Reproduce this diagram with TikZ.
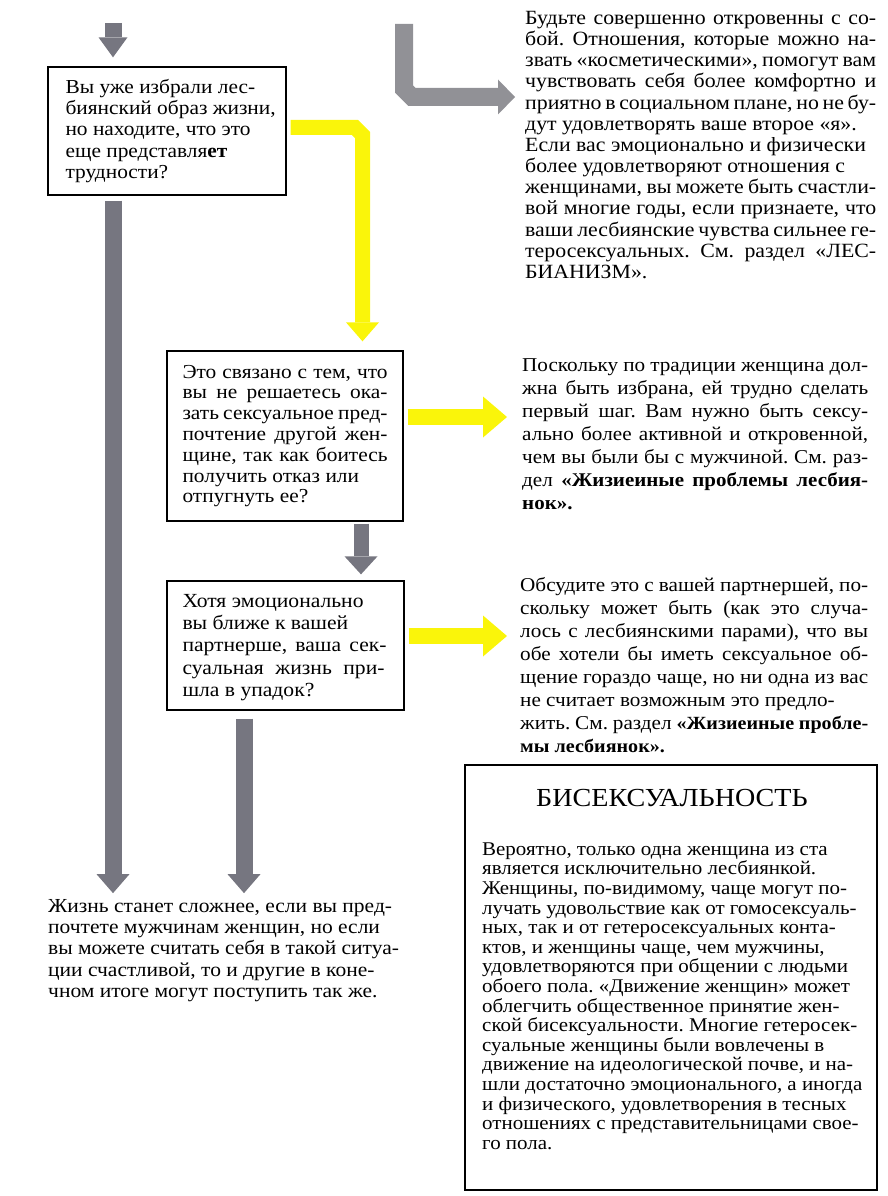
\documentclass[tikz,border=0pt]{standalone}
\usepackage{fontspec}
\setmainfont{Liberation Serif}[FakeStretch=1.08]
\usetikzlibrary{arrows.meta,calc}
\definecolor{arrgray}{RGB}{118,118,128}
\definecolor{lgray}{RGB}{145,145,150}
\definecolor{ylw}{RGB}{250,245,10}
\newcommand\justline[2]{\makebox[#1][s]{#2}}
\newcommand\refbold[2]{{\fontsize{#1}{23}\selectfont\bfseries #2}}
\frenchspacing
\begin{document}
\frenchspacing
\begin{tikzpicture}[x=1pt,y=-1pt,
  qbox/.style={draw=black, line width=1.3pt, inner sep=0pt},
  txt/.style={inner sep=0pt, align=left, anchor=west},
  garrow/.style={draw=arrgray, line width=17pt, -{Triangle[length=19pt,width=33pt,line width=0pt]}},
  gsmall/.style={draw=arrgray, line width=15pt, -{Triangle[length=18pt,width=33pt,line width=0pt]}},
  lgarrow/.style={draw=lgray, line width=18pt, -{Triangle[length=17pt,width=35pt,line width=0pt]}},
  yLarrow/.style={draw=ylw, line width=15pt, -{Triangle[length=19pt,width=33pt,line width=0pt]}},
  yarrow/.style={draw=ylw, line width=16pt, -{Triangle[length=24pt,width=41pt,line width=0pt]}},
]
\useasboundingbox (0,0) rectangle (887,1196);

% question boxes
\node[qbox, minimum width=238pt, minimum height=128pt] (q1) at (167,131) {};
\node[qbox, minimum width=236pt, minimum height=170pt] (q2) at (285,436) {};
\node[qbox, minimum width=237pt, minimum height=129pt] (q3) at (285.5,645.5) {};

\node[txt, font={\fontsize{19.8}{21.25}\selectfont}] (q1t) at ($(q1.west)+(18,0)$) {%
Вы уже избрали лес-\\
биянский образ жизни,\\
но находите, что это\\
еще представля\textbf{ет}\\
трудности?};

\node[txt, font={\fontsize{19.8}{20.8}\selectfont}] (q2t) at ($(q2.west)+(16,0)$) {%
\justline{205pt}{Это связано с тем, что}\\
\justline{205pt}{вы не решаетесь ока-}\\
\justline{205pt}{зать сексуальное пред-}\\
\justline{205pt}{почтение другой жен-}\\
\justline{205pt}{щине, так как боитесь}\\
получить отказ или\\
отпугнуть ее?};

\node[txt, font={\fontsize{20}{22.25}\selectfont}] (q3t) at ($(q3.west)+(16,2)$) {%
Хотя эмоционально\\
вы ближе к вашей\\
\justline{204pt}{партнерше, ваша сек-}\\
\justline{202pt}{суальная жизнь при-}\\
шла в упадок?};

% answer texts
\node[txt, font={\fontsize{20.2}{21.17}\selectfont}] (t1) at (525,145) {%
\justline{351pt}{Будьте совершенно откровенны с со-}\\
\justline{351pt}{бой. Отношения, которые можно на-}\\
\justline{351pt}{звать «косметическими», помогут вам}\\
\justline{351pt}{чувствовать себя более комфортно и}\\
\justline{351pt}{приятно в социальном плане, но не бу-}\\
дут удовлетворять ваше второе «я».\\
Если вас эмоционально и физически\\
более удовлетворяют отношения с\\
\justline{351pt}{женщинами, вы можете быть счастли-}\\
\justline{351pt}{вой многие годы, если признаете, что}\\
\justline{351pt}{ваши лесбиянские чувства сильнее ге-}\\
\justline{351pt}{теросексуальных. См. раздел «ЛЕС-}\\
БИАНИЗМ».};

\node[txt, font={\fontsize{19.6}{23}\selectfont}] (t2) at (522,434) {%
\justline{346pt}{Поскольку по традиции женщина дол-}\\
\justline{346pt}{жна быть избрана, ей трудно сделать}\\
\justline{346pt}{первый шаг. Вам нужно быть сексу-}\\
\justline{346pt}{ально более активной и откровенной,}\\
\justline{346pt}{чем вы были бы с мужчиной. См. раз-}\\
\justline{346pt}{дел \refbold{19.4}{«Жизиеиные проблемы лесбия-}}\\
\refbold{19.4}{нок».}};

\node[txt, font={\fontsize{19.6}{23}\selectfont}] (t3) at (520,665.5) {%
\justline{348pt}{Обсудите это с вашей партнершей, по-}\\
\justline{348pt}{скольку может быть (как это случа-}\\
\justline{348pt}{лось с лесбиянскими парами), что вы}\\
\justline{348pt}{обе хотели бы иметь сексуальное об-}\\
\justline{348pt}{щение гораздо чаще, но ни одна из вас}\\
не считает возможным это предло-\\
\justline{348pt}{жить. См. раздел \refbold{18.6}{«Жизиеиные пробле-}}\\
\refbold{18.6}{мы лесбиянок».}};

\node[txt, font={\fontsize{19.9}{21.25}\selectfont}] (bt) at (48,950.5) {%
Жизнь станет сложнее, если вы пред-\\
почтете мужчинам женщин, но если\\
вы можете считать себя в такой ситуа-\\
ции счастливой, то и другие в коне-\\
чном итоге могут поступить так же.};

% bisexuality frame
\node[qbox, minimum width=412pt, minimum height=425pt] (bis) at (671,977.5) {};
\node[inner sep=0pt, font={\fontsize{26}{30}\selectfont}] (bistitle) at (672,798) {БИСЕКСУАЛЬНОСТЬ};
\node[txt, font={\fontsize{19.4}{19.6}\selectfont}] (bisbody) at (482,996) {%
Вероятно, только одна женщина из ста\\
является исключительно лесбиянкой.\\
Женщины, по-видимому, чаще могут по-\\
лучать удовольствие как от гомосексуаль-\\
ных, так и от гетеросексуальных конта-\\
ктов, и женщины чаще, чем мужчины,\\
удовлетворяются при общении с людьми\\
обоего пола. «Движение женщин» может\\
облегчить общественное принятие жен-\\
ской бисексуальности. Многие гетеросек-\\
суальные женщины были вовлечены в\\
движение на идеологической почве, и на-\\
шли достаточно эмоционального, а иногда\\
и физического, удовлетворения в тесных\\
отношениях с представительницами свое-\\
го пола.};

% free ends
\coordinate (s0) at (113,23);
\coordinate (g0) at (404,24);
\coordinate (gtip) at (515,97);
\coordinate (a2x) at (244,0);
\coordinate (a23x) at (361,0);

% gray arrows
\draw[draw=arrgray, line width=17pt, -{Triangle[length=20pt,width=29pt,line width=0pt]}]
  (s0) -- ($(s0 |- q1.north)+(0,-9)$);
\draw[garrow] ($(s0 |- q1.south)+(0,5)$) -- ($(s0 |- bt.north)+(0,-6)$);
\draw[gsmall] ($(a23x |- q2.south)+(0,2)$) -- ($(a23x |- q3.north)+(0,-6)$);
\draw[garrow] ($(a2x |- q3.south)+(0,8)$) -- ($(a2x |- bt.north)+(0,-6)$);

% gray L arrow to first answer
\draw[lgarrow, line join=miter] (g0) -- (404,89) -- (412,97) -- (gtip);

% yellow arrows
\draw[yLarrow, line join=miter] ($(q1.east)+(4,-3.5)$) -- (355,127.5) -- (362.5,135) -- ($(362.5,0 |- q2.north)+(0,-9)$);
\draw[yarrow] ($(q2.east)+(4,-19)$) -- (507,417);
\draw[yarrow] ($(q3.east)+(4,-9.5)$) -- (507,636);
\end{tikzpicture}
\end{document}
